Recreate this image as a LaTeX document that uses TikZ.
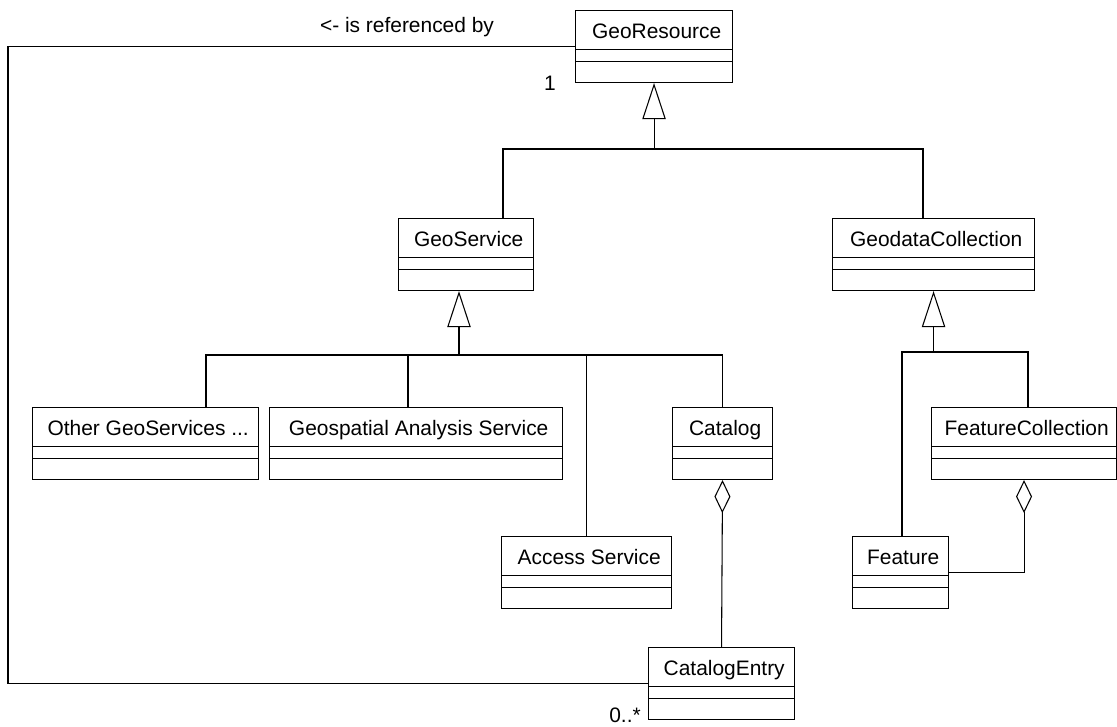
\documentclass[tikz,border=0pt]{standalone}
\usepackage{fontspec}
\setmainfont{Liberation Sans}
\usetikzlibrary{arrows.meta}

\tikzset{
  classbox/.style={draw, minimum height=54pt, inner sep=0pt, anchor=north west},
  classname/.style={font=\fontsize{15.7}{18}\selectfont, inner sep=0pt, anchor=base},
  textlabel/.style={font=\fontsize{15.7}{18}\selectfont, inner sep=0pt, anchor=base},
  isa/.style={-{Triangle[open, length=27pt, width=17.5pt]}},
  partof/.style={-{Diamond[open, length=24.75pt, width=12pt]}},
}

% class box: name, left, top, width (px), title
\newcommand{\umlclass}[5]{%
  \node[classbox, minimum width=#4*0.75pt] (#1) at (#2,#3) {};
  \node[classname] (#1-title) at ([xshift=2pt,yshift=-21pt]#1.north) {#5};
  \draw ([yshift=-29.6pt]#1.north west) -- ([yshift=-29.6pt]#1.north east);
  \draw ([yshift=-38.6pt]#1.north west) -- ([yshift=-38.6pt]#1.north east);
}

\begin{document}
\begin{tikzpicture}[x=0.75pt, y=-0.75pt, line width=0.8pt]
  \useasboundingbox (0,0) rectangle (1117,726);
  % classes
  \umlclass{georesource}{575}{10}{157}{GeoResource}
  \umlclass{geoservice}{398}{218}{135}{GeoService}
  \umlclass{geodata}{832}{218}{202}{GeodataCollection}
  \umlclass{othergeo}{32}{407}{226}{Other GeoServices ...}
  \umlclass{geospatial}{269}{407}{293}{Geospatial Analysis Service}
  \umlclass{catalog}{672}{407}{100}{Catalog}
  \umlclass{featurecoll}{931}{407}{185}{FeatureCollection}
  \umlclass{access}{501}{536}{170}{Access Service}
  \umlclass{feature}{852}{536}{96}{Feature}
  \umlclass{catalogentry}{648}{647}{146}{CatalogEntry}

  % GeoResource generalisation
  \coordinate (bar1w) at (503,149);
  \coordinate (bar1e) at (923,149);
  \draw[isa] (georesource.south |- bar1w) -- (georesource.south);
  \draw (bar1w |- geoservice.north) -- (bar1w) -- (bar1e) -- (bar1e |- geodata.north);

  % GeoService generalisation
  \coordinate (bar2) at (459,355);
  \coordinate (bar2w) at (206,355);
  \coordinate (bar2m) at (408,355);
  \draw[isa] (bar2) -- (bar2 |- geoservice.south);
  \draw (bar2w |- othergeo.north) -- (bar2w) -- (catalog.north |- bar2w) -- (catalog.north);
  \draw (bar2m) -- (bar2m |- geospatial.north);
  \draw (access.north |- bar2w) -- (access.north);

  % GeodataCollection generalisation
  \coordinate (bar3w) at (902,352);
  \coordinate (bar3e) at (1028,352);
  \draw[isa] (geodata.south |- bar3w) -- (geodata.south);
  \draw (bar3w |- feature.north) -- (bar3w) -- (bar3e) -- (bar3e |- featurecoll.north);

  % aggregations
  \draw[partof] (catalogentry.north) -- (catalog.south);
  \draw[partof] (feature.east) -| (featurecoll.south);

  % reference association
  \coordinate (rail) at (8,0);
  \draw (georesource.west) -- (georesource.west -| rail) -- (catalogentry.west -| rail) -- (catalogentry.west);
  \node[textlabel] (refby) at (407,32) {<- is referenced by};
  \node[textlabel] (multone) at (550,90) {1};
  \node[textlabel] (multmany) at (625,722) {0..*};
\end{tikzpicture}
\end{document}
